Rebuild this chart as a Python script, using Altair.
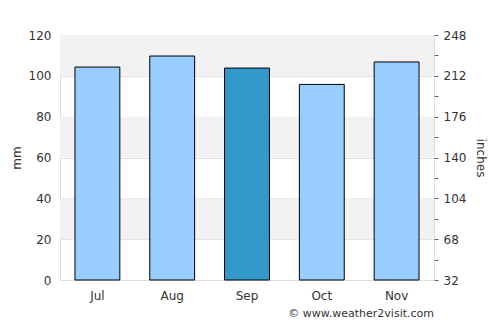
import altair as alt
import pandas as pd

months = ["Jul", "Aug", "Sep", "Oct", "Nov"]
rain_mm = [104.3, 109.7, 103.8, 95.8, 106.8]
highlight = [False, False, True, False, False]

band_lo = [20, 60, 100]
band_hi = [40, 80, 120]

right_ticks = [32, 50, 68, 86, 104, 122, 140, 158, 176, 194, 212, 230, 248]

bars_df = pd.DataFrame({"month": months, "mm": rain_mm, "hl": highlight})
bands_df = pd.DataFrame({"lo": band_lo, "hi": band_hi})
right_df = pd.DataFrame({"v": [right_ticks[0], right_ticks[-1]]})

FONT = "DejaVu Sans"

yscale = alt.Scale(domain=[0, 120], nice=False, zero=True)

bands = alt.Chart(bands_df).mark_rect(color="#f2f2f2").encode(
    y=alt.Y("lo:Q", scale=yscale,
            axis=alt.Axis(title="mm", values=[0, 20, 40, 60, 80, 100, 120],
                          ticks=False, domain=False, grid=True,
                          gridColor="#e0e0e0", labelPadding=9,
                          titlePadding=5)),
    y2="hi:Q",
)

bars = alt.Chart(bars_df).mark_bar(stroke="black", strokeWidth=1).encode(
    x=alt.X("month:N", sort=months,
            scale=alt.Scale(paddingInner=0.4, paddingOuter=0.2),
            axis=alt.Axis(title=None, labelAngle=0, ticks=False,
                          domainColor="#dddddd", labelPadding=10)),
    y=alt.Y("mm:Q", scale=yscale),
    color=alt.Color("hl:N", scale=alt.Scale(domain=[False, True],
                                           range=["#99ccff", "#3399cc"]),
                    legend=None),
)

left = alt.layer(bands, bars)

right = alt.Chart(right_df).mark_point(opacity=0).encode(
    y=alt.Y("v:Q", scale=alt.Scale(domain=[32, 248], nice=False, zero=False),
            axis=alt.Axis(orient="right", title="inches", values=right_ticks,
                          labelExpr="datum.value % 36 == 32 ? datum.label : ''",
                          grid=False, domain=False, tickSize=4,
                          tickColor="#666666", labelPadding=5,
                          titlePadding=8)),
)

chart = alt.layer(left, right).resolve_scale(y="independent").properties(
    width=374,
    height=245,
    autosize=alt.AutoSizeParams(type="none"),
    padding={"left": 60, "top": 35, "right": 66, "bottom": 45},
    title=alt.TitleParams("© www.weather2visit.com", orient="bottom",
                          anchor="end", frame="group", fontSize=11,
                          fontWeight="normal", color="#333333", font=FONT,
                          offset=7),
).configure_view(stroke="#dddddd").configure_axis(
    labelFont=FONT, titleFont=FONT, labelFontSize=12, titleFontSize=12,
    labelColor="#333333", titleColor="#333333", titleFontWeight="normal",
)

chart.save("out.html", embed_options={"renderer": "svg", "actions": False})
